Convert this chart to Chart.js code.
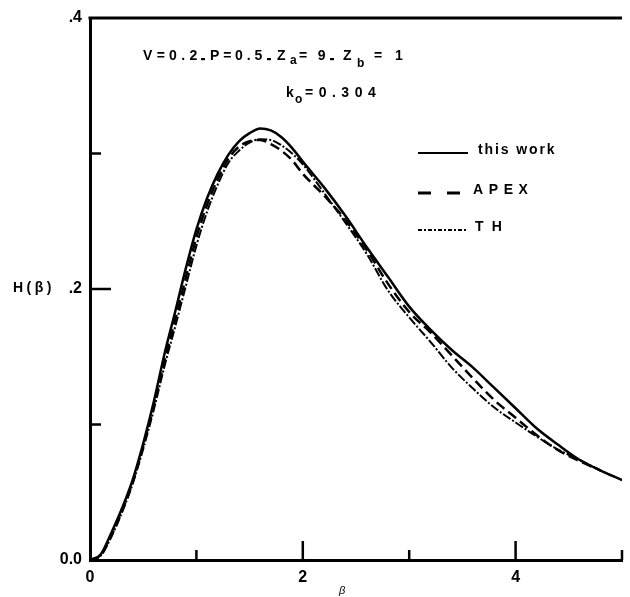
<!DOCTYPE html>
<html lang="en">
<head>
  <meta charset="UTF-8" />
  <title>H(β)</title>
  <style>
    * {
      margin: 0;
      padding: 0;
    }

    body {
      background: #fff;
    }

    .chartBox {
      width: 630px;
      height: 597px;
    }
  </style>
</head>
<body>
  <div class="chartBox">
    <canvas id="myChart" width="630" height="597"></canvas>
  </div>
  <script src="https://cdn.jsdelivr.net/npm/chart.js@4.4.1/dist/chart.umd.min.js"></script>
  <script>
    // values
    const beta = [
      0, 0.1, 0.2, 0.3, 0.4, 0.5, 0.6, 0.7, 0.8, 0.9,
      1.0, 1.1, 1.2, 1.3, 1.4, 1.5, 1.6, 1.7, 1.8, 1.9,
      2.0, 2.2, 2.4, 2.6, 2.8, 3.0, 3.2, 3.4, 3.6, 3.8,
      4.0, 4.2, 4.4, 4.6, 4.8, 5.0
    ];

    const thisWork = [
      0, 0.004, 0.020, 0.038, 0.059, 0.086, 0.117, 0.152, 0.183, 0.215,
      0.244, 0.267, 0.285, 0.299, 0.309, 0.315, 0.3185, 0.317, 0.312, 0.304,
      0.294, 0.275, 0.254, 0.231, 0.209, 0.187, 0.170, 0.155, 0.142, 0.127,
      0.112, 0.097, 0.085, 0.074, 0.066, 0.059
    ];

    const apex = [
      0, 0.0035, 0.018, 0.036, 0.057, 0.084, 0.114, 0.147, 0.177, 0.208,
      0.238, 0.262, 0.281, 0.296, 0.305, 0.309, 0.310, 0.307, 0.302, 0.295,
      0.285, 0.269, 0.251, 0.229, 0.204, 0.183, 0.168, 0.151, 0.134, 0.118,
      0.105, 0.092, 0.081, 0.073, 0.066, null
    ];

    const th = [
      0, 0.003, 0.017, 0.035, 0.056, 0.082, 0.111, 0.143, 0.172, 0.202,
      0.232, 0.257, 0.277, 0.293, 0.302, 0.308, 0.3105, 0.310, 0.306, 0.300,
      0.292, 0.271, 0.249, 0.226, 0.199, 0.179, 0.161, 0.142, 0.1265, 0.1125,
      0.1015, 0.091, 0.0815, 0.074, 0.066, 0.059
    ];

    const seriesNames = ["this work", "APEX", "TH"];

    const xLabelValues = [0, 2, 4];
    const yLabelValues = [0, 0.2, 0.4];
    const yLabelTexts = ["0.0", ".2", ".4"];
    const xMajorTicks = [2, 4];
    const xMinorTicks = [1, 3, 5];
    const yMajorTicks = [0.2];
    const yMinorTicks = [0.1, 0.3];

    const yTitle = "H(β)";
    const xTitle = "β";
    const noteLine1 = ["V=0.2", "P=0.5", "Z", "a", "= 9", "Z", "b", "= 1"];
    const noteLine2 = ["k", "o", "=0.304"];

    const FONT = "'Liberation Sans', Arial, Helvetica, sans-serif";

    function toPoints(values) {
      return beta.map((b, i) => ({ x: b, y: values[i] }));
    }

    const decorations = {
      id: "decorations",
      afterDatasetsDraw(chart) {
        const { ctx, chartArea: a, scales: { x, y } } = chart;
        ctx.save();
        ctx.strokeStyle = "#000";
        ctx.fillStyle = "#000";
        ctx.lineCap = "butt";

        // top frame line
        ctx.lineWidth = 3;
        ctx.beginPath();
        ctx.moveTo(a.left - 1.5, a.top);
        ctx.lineTo(a.right, a.top);
        ctx.stroke();

        // inward tick marks
        ctx.lineWidth = 2.5;
        const xTick = (v, len) => {
          const px = x.getPixelForValue(v);
          ctx.beginPath();
          ctx.moveTo(px, a.bottom);
          ctx.lineTo(px, a.bottom - len);
          ctx.stroke();
        };
        const yTick = (v, len) => {
          const py = y.getPixelForValue(v);
          ctx.beginPath();
          ctx.moveTo(a.left, py);
          ctx.lineTo(a.left + len, py);
          ctx.stroke();
        };
        xMajorTicks.forEach(v => xTick(v, 19));
        xMinorTicks.forEach(v => xTick(v, 10));
        yMajorTicks.forEach(v => yTick(v, 21));
        yMinorTicks.forEach(v => yTick(v, 11));

        const put = (t, px, py, size, spacing) => {
          ctx.font = "bold " + size + "px " + FONT;
          ctx.letterSpacing = spacing + "px";
          ctx.fillText(t, px, py);
        };

        // axis titles
        ctx.textBaseline = "alphabetic";
        ctx.textAlign = "left";
        put(yTitle, 13, y.getPixelForValue(0.2) + 3, 14, 3.5);
        ctx.letterSpacing = "0px";
        ctx.font = "italic 11px " + FONT;
        ctx.textAlign = "center";
        ctx.fillText(xTitle, x.getPixelForValue(2.37), a.bottom + 34);

        // parameter notes
        ctx.textAlign = "left";
        const dash = (px, py) => {
          ctx.fillRect(px, py - 2, 4, 2.2);
        };
        put(noteLine1[0], 143, 60, 14, 4.3);
        dash(201, 60);
        put(noteLine1[1], 210, 60, 14, 3.8);
        dash(267, 60);
        put(noteLine1[2], 277, 60, 14, 0);
        put(noteLine1[3], 290, 64, 12, 0);
        put(noteLine1[4], 299, 60, 14, 3.3);
        dash(330, 60);
        put(noteLine1[5], 343, 60, 14, 0);
        put(noteLine1[6], 357, 67, 12, 0);
        put(noteLine1[7], 374, 60, 14, 4.5);
        put(noteLine2[0], 286, 97, 14, 0);
        put(noteLine2[1], 295, 103, 12, 0);
        put(noteLine2[2], 305, 97, 14, 5.5);

        // legend
        const legendY = [153, 193, 230];
        const legendDash = [[], [13, 16], [4, 2, 2, 2]];
        const legendText = [[478, 1.9], [473, 5.6], [475, 8.3]];
        chart.data.datasets.forEach((ds, i) => {
          ctx.lineWidth = i === 1 ? 3 : 2;
          ctx.setLineDash(legendDash[i]);
          ctx.beginPath();
          ctx.moveTo(418, legendY[i]);
          ctx.lineTo(468, legendY[i]);
          ctx.stroke();
          ctx.setLineDash([]);
          put(ds.label, legendText[i][0], legendY[i] + 1, 14, legendText[i][1]);
        });

        ctx.restore();
      }
    };

    const data = {
      datasets: [
        {
          label: seriesNames[0],
          data: toPoints(thisWork),
          borderColor: "#000",
          borderWidth: 2.5,
          pointRadius: 0,
          cubicInterpolationMode: "monotone",
          fill: false
        },
        {
          label: seriesNames[1],
          data: toPoints(apex),
          borderColor: "#000",
          borderWidth: 2.5,
          borderDash: [10, 5],
          pointRadius: 0,
          cubicInterpolationMode: "monotone",
          fill: false
        },
        {
          label: seriesNames[2],
          data: toPoints(th),
          borderColor: "#000",
          borderWidth: 2,
          borderDash: [9, 2, 2, 2],
          pointRadius: 0,
          cubicInterpolationMode: "monotone",
          fill: false
        }
      ]
    };

    const options = {
      responsive: false,
      animation: false,
      layout: {
        padding: { top: 18, right: 0, left: 0, bottom: 0 }
      },
      scales: {
        x: {
          type: "linear",
          min: 0,
          max: 5,
          afterFit: function (scale) {
            scale.height = 37;
          },
          grid: {
            color: "rgba(0,0,0,0)",
            drawTicks: false
          },
          border: {
            display: true,
            color: "#000",
            width: 3
          },
          ticks: {
            stepSize: 1,
            padding: 8,
            maxRotation: 0,
            autoSkip: false,
            color: "#000",
            font: { family: FONT, weight: "bold", size: 16 },
            callback: function (value) {
              return xLabelValues.includes(value) ? String(value) : "";
            }
          }
        },
        y: {
          min: 0,
          max: 0.4,
          afterFit: function (scale) {
            scale.width = 90;
          },
          grid: {
            color: "rgba(0,0,0,0)",
            drawTicks: false
          },
          border: {
            display: true,
            color: "#000",
            width: 3
          },
          ticks: {
            stepSize: 0.1,
            padding: 8,
            autoSkip: false,
            color: "#000",
            font: { family: FONT, weight: "bold", size: 16 },
            callback: function (value) {
              const idx = yLabelValues.findIndex(v => Math.abs(v - value) < 1e-6);
              return idx >= 0 ? yLabelTexts[idx] : "";
            }
          }
        }
      },
      plugins: {
        legend: { display: false },
        tooltip: { enabled: false }
      }
    };

    const config = {
      type: "line",
      data: data,
      options: options,
      plugins: [decorations]
    };

    const ctx = document.getElementById("myChart").getContext("2d");
    const myChart = new Chart(ctx, config);
  </script>
</body>
</html>
